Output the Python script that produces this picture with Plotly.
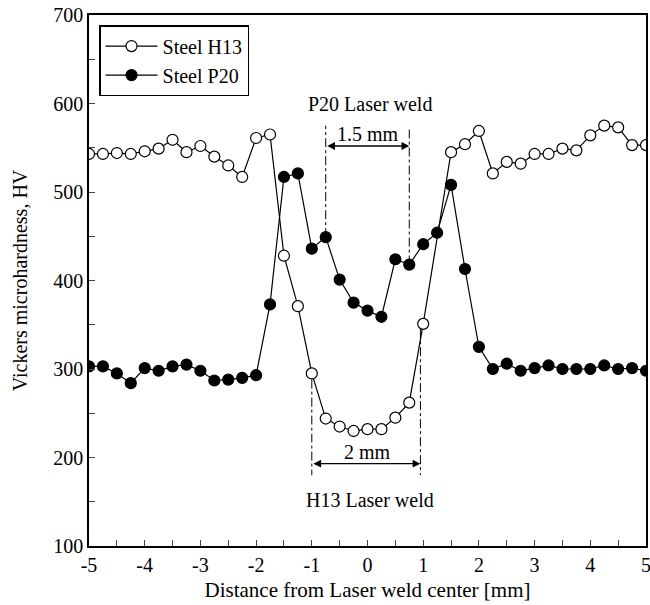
import plotly.graph_objects as go

# Data
h13_x = [-5, -4.75, -4.5, -4.25, -4, -3.75, -3.5, -3.25, -3, -2.75, -2.5, -2.25, -2, -1.75,
         -1.5, -1.25, -1, -0.75, -0.5, -0.25, 0, 0.25, 0.5, 0.75, 1,
         1.5, 1.75, 2, 2.25, 2.5, 2.75, 3, 3.25, 3.5, 3.75, 4, 4.25, 4.5, 4.75, 5]
h13_y = [543, 543, 544, 543, 546, 549, 559, 545, 552, 540, 530, 517, 561, 565,
         428, 371, 295, 244, 235, 230, 232, 232, 245, 262, 351,
         545, 554, 569, 521, 534, 532, 543, 543, 549, 547, 564, 575, 573, 553, 553]

p20_x = [-5, -4.75, -4.5, -4.25, -4, -3.75, -3.5, -3.25, -3, -2.75, -2.5, -2.25, -2, -1.75,
         -1.5, -1.25, -1, -0.75, -0.5, -0.25, 0, 0.25, 0.5, 0.75, 1, 1.25, 1.5, 1.75,
         2, 2.25, 2.5, 2.75, 3, 3.25, 3.5, 3.75, 4, 4.25, 4.5, 4.75, 5]
p20_y = [303, 303, 295, 284, 301, 298, 303, 305, 298, 287, 288, 290, 293, 373,
         517, 521, 436, 449, 401, 375, 366, 359, 424, 418, 441, 454, 508, 413,
         325, 300, 306, 298, 301, 304, 300, 300, 300, 304, 300, 301, 298]

x_tickvals = [-5, -4, -3, -2, -1, 0, 1, 2, 3, 4, 5]
x_ticktext = ["-5", "-4", "-3", "-2", "-1", "0", "1", "2", "3", "4", "5"]

FONT = "Liberation Serif"
FS = 20

fig = go.Figure()
fig.add_trace(go.Scatter(
    x=h13_x, y=h13_y, mode="lines+markers", name="Steel H13",
    line=dict(color="black", width=1.2),
    marker=dict(symbol="circle", size=11, color="white", line=dict(color="black", width=1.2)),
))
fig.add_trace(go.Scatter(
    x=p20_x, y=p20_y, mode="lines+markers", name="Steel P20",
    line=dict(color="black", width=1.2),
    marker=dict(symbol="circle", size=11, color="black", line=dict(color="black", width=1.2)),
))

# dash-dot vertical guides
shapes = [
    dict(type="line", xref="x", yref="y", x0=-0.75, x1=-0.75, y0=449, y1=575,
         line=dict(color="black", width=1, dash="dashdot")),
    dict(type="line", xref="x", yref="y", x0=0.75, x1=0.75, y0=418, y1=572,
         line=dict(color="black", width=1, dash="dashdot")),
    dict(type="line", xref="x", yref="y", x0=-1, x1=-1, y0=288, y1=180,
         line=dict(color="black", width=1, dash="dashdot")),
    dict(type="line", xref="x", yref="y", x0=0.95, x1=0.95, y0=345, y1=180,
         line=dict(color="black", width=1, dash="dashdot")),
]

annotations = [
    dict(x=0.75, y=552, ax=-0.75, ay=552, xref="x", yref="y", axref="x", ayref="y",
         text="", showarrow=True, arrowhead=2, arrowside="end+start", arrowsize=1.2,
         arrowwidth=1.3, arrowcolor="black"),
    dict(x=0.95, y=193, ax=-1, ay=193, xref="x", yref="y", axref="x", ayref="y",
         text="", showarrow=True, arrowhead=2, arrowside="end+start", arrowsize=1.2,
         arrowwidth=1.3, arrowcolor="black"),
    dict(x=0.05, y=600, xref="x", yref="y", text="P20 Laser weld", showarrow=False,
         font=dict(family=FONT, size=FS, color="black")),
    dict(x=0.0, y=566, xref="x", yref="y", text="1.5 mm", showarrow=False,
         font=dict(family=FONT, size=FS, color="black")),
    dict(x=0.0, y=206, xref="x", yref="y", text="2 mm", showarrow=False,
         font=dict(family=FONT, size=FS, color="black")),
    dict(x=0.05, y=152, xref="x", yref="y", text="H13 Laser weld", showarrow=False,
         font=dict(family=FONT, size=FS, color="black")),
]

fig.update_layout(
    width=650, height=605,
    margin=dict(l=89, r=4, t=15, b=59),
    paper_bgcolor="white", plot_bgcolor="white",
    font=dict(family=FONT, size=FS, color="black"),
    showlegend=True,
    legend=dict(x=0.018, y=0.981, xanchor="left", yanchor="top",
                bgcolor="white", bordercolor="black", borderwidth=1.5,
                font=dict(family=FONT, size=FS), itemwidth=52,
                tracegroupgap=2),
    shapes=shapes,
    annotations=annotations,
)
fig.update_xaxes(
    range=[-5, 5], tickvals=x_tickvals, ticktext=x_ticktext,
    ticks="inside", ticklen=6, tickwidth=1.2,
    showline=True, linecolor="black", linewidth=1.5, mirror=True,
    showgrid=False, zeroline=False, automargin=False, ticklabeloverflow="allow",
    minor=dict(ticks="inside", dtick=0.5, ticklen=6, tickwidth=1.2, showgrid=False),
    title=dict(text="Distance from Laser weld center [mm]", standoff=8,
               font=dict(family=FONT, size=21)),
    tickfont=dict(family=FONT, size=FS),
)
fig.update_yaxes(
    range=[100, 700], dtick=100, ticks="inside", ticklen=6, tickwidth=1.2,
    showline=True, linecolor="black", linewidth=1.5, mirror=True,
    showgrid=False, zeroline=False, automargin=False, ticklabeloverflow="allow",
    minor=dict(ticks="inside", dtick=50, ticklen=6, tickwidth=1.2, showgrid=False),
    title=dict(text="Vickers microhardness, HV", standoff=20,
               font=dict(family=FONT, size=FS)),
    tickfont=dict(family=FONT, size=FS),
)

fig.write_html("out.html", config={"displayModeBar": False},
               post_script="document.body.style.margin='0';")
